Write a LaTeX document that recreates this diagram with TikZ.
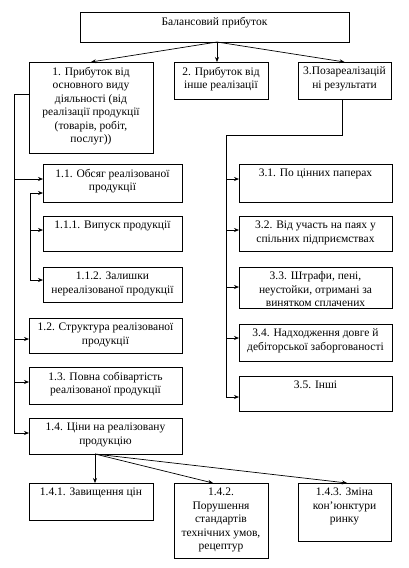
\documentclass[tikz,border=0pt]{standalone}
\usepackage{fontspec}
\setmainfont{Liberation Serif}
\usetikzlibrary{arrows.meta}
\newcommand\bx[6]{\node[bx, anchor=north west] (#1) at (#2,#3) {\parbox[c][\dimexpr #5pt - #3pt\relax][t]{\dimexpr #4pt - #2pt\relax}{\centering\vspace*{5pt}#6\par}};}
\begin{document}
\begin{tikzpicture}[x=1pt,y=-1pt, line width=0.7pt,
  bx/.style={draw, inner sep=0pt, outer sep=0pt, font=\fontsize{11.5}{13.5}\selectfont},
  arr/.style={-{Stealth[length=5pt,width=4pt]}}]
\useasboundingbox (0,0) rectangle (408,568);
\bx{top}{80}{12}{349}{42}{Балансовий прибуток}
\bx{b1}{29}{62}{153}{153}{1. Прибуток від\\ основного виду\\ діяльності (від\\ реалізації продукції\\ (товарів, робіт,\\ послуг))}
\bx{b2}{174}{62}{268}{99}{2. Прибуток від\\ інше реалізації}
\bx{b3}{298}{62}{391}{99}{3.Позареалізацій\\ ні результати}
\bx{b11}{43}{164}{182}{202}{1.1. Обсяг реалізованої\\ продукції}
\bx{b111}{43}{216}{182}{251}{1.1.1. Випуск продукції}
\bx{b112}{43}{267}{182}{302}{1.1.2. Залишки\\ нереалізованої продукції}
\bx{b12}{29}{318}{182}{353}{1.2. Структура реалізованої\\ продукції}
\bx{b13}{29}{367}{182}{404}{1.3. Повна собівартість\\ реалізованої продукції}
\bx{b14}{29}{418}{182}{454}{1.4. Ціни на реалізовану\\ продукцію}
\bx{b141}{29}{483}{153}{520}{1.4.1. Завищення цін}
\bx{b142}{174}{483}{268}{558}{1.4.2.\\ Порушення\\ стандартів\\ технічних умов,\\ рецептур}
\bx{b143}{298}{483}{391}{541}{1.4.3. Зміна\\ кон'юнктури\\ ринку}
\bx{b31}{239}{164}{392}{202}{3.1. По цінних паперах}
\bx{b32}{239}{216}{392}{251}{3.2. Від участь на паях у\\ спільних підприємствах}
\bx{b33}{239}{267}{392}{308}{3.3. Штрафи, пені,\\ неустойки, отримані за\\ винятком сплачених}
\bx{b34}{239}{324}{392}{361}{3.4. Надходження довге й\\ дебіторської заборгованості}
\bx{b35}{239}{376}{392}{411}{3.5. Інші}
% top arrows
\coordinate (T) at (217,42);
\draw[arr] (T) -- (b1.north);
\draw[arr] (T) -- (T |- b2.north);
\draw[arr] (T) -- (b3.north);
% left trunk
\draw[arr] (b1.west |- 0,94) -- (14,94) -- (14,433) -- (b14.west |- 0,433);
\draw[arr] (14,179) -- (b11.west |- 0,179);
\draw[arr] (14,339) -- (b12.west |- 0,339);
\draw[arr] (14,382) -- (b13.west |- 0,382);
% second trunk
\draw[arr] (30,280) -- (30,193) -- (b11.west |- 0,193);
\draw[arr] (30,230) -- (b111.west |- 0,230);
\draw[arr] (30,280) -- (b112.west |- 0,280);
% right trunk
\draw[arr] (b3.south -| 342,0) -- (342,135) -| (226,397) -- (b35.west |- 0,397);
\draw[arr] (226,179) -- (b31.west |- 0,179);
\draw[arr] (226,230) -- (b32.west |- 0,230);
\draw[arr] (226,287) -- (b33.west |- 0,287);
\draw[arr] (226,338) -- (b34.west |- 0,338);
% bottom arrows
\coordinate (S) at (95,454);
\draw[arr] (S) -- (S |- b141.north);
\draw[arr] (S) -- (213,0 |- b142.north);
\draw[arr] (S) -- (347,0 |- b143.north);
\end{tikzpicture}
\end{document}
